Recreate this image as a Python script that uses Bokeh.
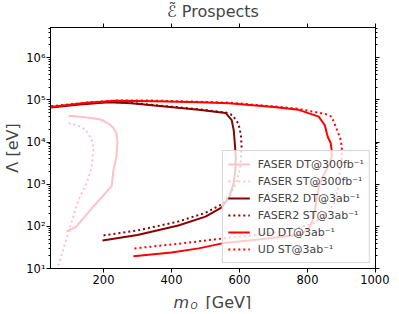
from bokeh.plotting import figure
from bokeh.layouts import column
from bokeh.models import (LinearAxis, LogAxis, FixedTicker, LogTicker, Label, Legend,
                          LegendItem, CustomJSTickFormatter, CustomLabelingPolicy)
from bokeh.embed import file_html
from bokeh.resources import INLINE

# ---------------- data ----------------
xticks = [200, 400, 600, 800, 1000]

faser_dt_m = [91, 118, 171, 224, 229, 238, 241, 238, 230, 221, 200, 185, 140, 97]
faser_dt_L = [76, 95, 300, 900, 2100, 4500, 1.0e4, 1.6e4, 2.1e4, 2.5e4, 3.2e4, 3.5e4, 3.9e4, 4.2e4]

faser_st_m = [67, 85, 103, 126, 150, 165, 170, 168, 161, 150, 135, 97]
faser_st_L = [11.7, 35, 105, 420, 1050, 2500, 6500, 1.0e4, 1.3e4, 1.8e4, 2.3e4, 2.8e4]

faser2_dt_m = [197, 300, 420, 500, 548, 570, 582, 588, 589, 587, 583, 577, 559, 480, 350, 282, 215, 130, 44]
faser2_dt_L = [46, 62, 105, 170, 280, 500, 1000, 2200, 4400, 7600, 1.9e4, 3.3e4, 4.9e4, 5.8e4, 7.3e4, 8.3e4, 8.8e4, 7.8e4, 6.6e4]

faser2_st_m = [200, 300, 420, 500, 550, 575, 592, 602, 605, 606, 604, 597, 580, 560, 480, 350, 282, 215, 130, 44]
faser2_st_L = [61, 80, 130, 210, 340, 600, 1200, 2500, 5000, 8000, 1.5e4, 2.7e4, 4.3e4, 5.0e4, 6.0e4, 7.5e4, 8.5e4, 9.0e4, 8.0e4, 6.8e4]

ud_dt_m = [288, 400, 480, 553, 650, 750, 780, 805, 818, 826, 835, 850, 865, 871, 871, 868, 860, 857, 851, 833, 774, 700, 569, 480, 350, 236, 150, 44]
ud_dt_L = [19.4, 24, 30, 40, 48, 60, 65, 90, 160, 400, 1000, 1800, 3000, 4400, 6500, 9600, 1.3e4, 1.6e4, 2.5e4, 4.0e4, 5.8e4, 6.8e4, 8.3e4, 8.8e4, 9.3e4, 9.5e4, 8.5e4, 6.8e4]

ud_st_m = [291, 400, 480, 553, 650, 750, 820, 860, 882, 892, 896, 901, 901, 898, 890, 883, 871, 853, 774, 700, 569, 480, 350, 236, 150, 44]
ud_st_L = [30, 37, 44, 52, 62, 80, 120, 200, 400, 1000, 2500, 4400, 7000, 1.1e4, 1.7e4, 2.3e4, 4.0e4, 4.6e4, 6.1e4, 7.0e4, 8.6e4, 9.0e4, 9.6e4, 9.7e4, 8.6e4, 7.0e4]

labels = ["FASER DT@300fb⁻¹", "FASER ST@300fb⁻¹", "FASER2 DT@3ab⁻¹",
          "FASER2 ST@3ab⁻¹", "UD DT@3ab⁻¹", "UD ST@3ab⁻¹"]

FONT = "DejaVu Sans"

p = figure(frame_width=325, frame_height=241, x_range=(44, 1000), y_range=(10, 5.2e6),
           y_axis_type="log", output_backend="svg", toolbar_location=None,
           min_border_left=44, min_border_right=14, min_border_top=19,
           min_border_bottom=19)
p.background_fill_color = "white"
p.border_fill_color = "white"
p.outline_line_color = "black"
p.xgrid.visible = False
p.ygrid.visible = False

p.title.text = "ℰ̃ Prospects"
p.title.align = "center"
p.title.text_font = FONT
p.title.text_font_size = "16px"
p.title.text_font_style = "normal"
p.title.standoff = -2

sup = CustomJSTickFormatter(code="""
const m = {"0":"⁰","1":"¹","2":"²","3":"³","4":"⁴","5":"⁵","6":"⁶","7":"⁷","8":"⁸","9":"⁹","-":"⁻"};
const e = Math.round(Math.log10(tick));
return "10" + String(e).split("").map(c => m[c]).join("");
""")

def style(ax):
    ax.axis_line_color = "black"
    ax.major_tick_line_color = "black"
    ax.minor_tick_line_color = "black"
    ax.major_tick_out = 4
    ax.major_tick_in = 0
    ax.minor_tick_out = 2
    ax.minor_tick_in = 0
    ax.major_label_text_font = FONT
    ax.major_label_text_font_size = "11.5px"
    ax.major_label_text_color = "black"
    ax.axis_label_text_font = FONT
    ax.axis_label_text_font_size = "16px"
    ax.axis_label_text_font_style = "normal"

xa = p.xaxis[0]
xa.ticker = FixedTicker(ticks=xticks)
style(xa)
xa.major_label_standoff = 2

ya = p.yaxis[0]
ya.ticker = LogTicker(num_minor_ticks=10)
ya.formatter = sup
style(ya)
ya.axis_label = "Λ [eV]"
ya.major_label_standoff = 1
ya.axis_label_standoff = 1

HIDE = """
const all = Array.from(indices);
for (const i of all) { indices.unset(i); }
return indices;
"""

top = LinearAxis(ticker=FixedTicker(ticks=xticks),
                 major_label_policy=CustomLabelingPolicy(code=HIDE))
style(top)
top.major_label_text_font_size = "1px"
top.major_label_standoff = 0
p.add_layout(top, "above")

right = LogAxis(ticker=LogTicker(num_minor_ticks=10),
                major_label_policy=CustomLabelingPolicy(code=HIDE))
style(right)
right.major_label_text_font_size = "1px"
right.major_label_standoff = 0
p.add_layout(right, "right")

DOT = "2 3"
r1 = p.line(faser_dt_m, faser_dt_L, line_color="pink", line_width=2)
r2 = p.line(faser_st_m, faser_st_L, line_color="pink", line_width=2, line_dash=DOT)
r3 = p.line(faser2_dt_m, faser2_dt_L, line_color="darkred", line_width=2)
r4 = p.line(faser2_st_m, faser2_st_L, line_color="darkred", line_width=2, line_dash=DOT)
r5 = p.line(ud_dt_m, ud_dt_L, line_color="red", line_width=2)
r6 = p.line(ud_st_m, ud_st_L, line_color="red", line_width=2, line_dash=DOT)

legend = Legend(items=[LegendItem(label=l, renderers=[r]) for l, r in
                       zip(labels, [r1, r2, r3, r4, r5, r6])],
                location="bottom_right")
legend.label_text_font = FONT
legend.label_text_font_size = "11px"
legend.glyph_width = 22
legend.glyph_height = 16
legend.label_height = 16
legend.label_standoff = 8
legend.spacing = 1
legend.padding = 5
legend.margin = 5
legend.background_fill_color = "white"
legend.background_fill_alpha = 0.8
legend.border_line_color = "#cccccc"
legend.border_line_alpha = 0.8
p.add_layout(legend)

# strip under the plot carrying the x axis label (italic m, subscript Q, [GeV])
p2 = figure(frame_width=325, frame_height=22, x_range=(0, 1), y_range=(0, 1),
            output_backend="svg", toolbar_location=None,
            x_axis_location=None, y_axis_location=None,
            min_border_left=44, min_border_right=14, min_border_top=0, min_border_bottom=0)
p2.outline_line_color = None
p2.xgrid.visible = False
p2.ygrid.visible = False
p2.background_fill_color = "white"
p2.border_fill_color = "white"
p2.add_layout(Label(x=123, y=7, x_units="screen", y_units="screen", text="m",
                    text_font=FONT, text_font_style="italic", text_font_size="16px",
                    text_baseline="alphabetic"))
p2.add_layout(Label(x=140, y=4, x_units="screen", y_units="screen", text="Q",
                    text_font=FONT, text_font_style="italic", text_font_size="9px",
                    text_baseline="alphabetic"))
p2.add_layout(Label(x=155, y=7, x_units="screen", y_units="screen", text="[GeV]",
                    text_font=FONT, text_font_size="16px", text_baseline="alphabetic"))

layout = column(p, p2, spacing=0)
open("out.html", "w").write(file_html(layout, INLINE))
